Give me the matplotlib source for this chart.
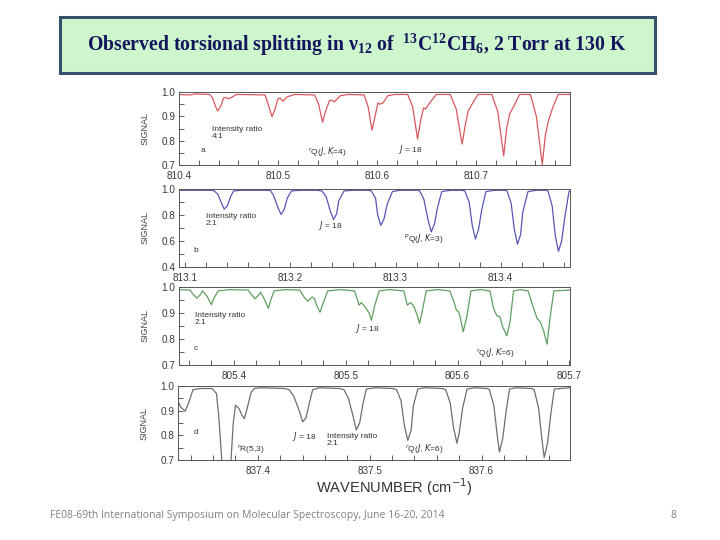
import matplotlib
matplotlib.use("Agg")
import matplotlib.pyplot as plt
from matplotlib.patches import Rectangle
from matplotlib.ticker import MultipleLocator, FormatStrFormatter

plt.rcParams['font.family'] = ['Liberation Sans', 'DejaVu Sans']
plt.rcParams['mathtext.fontset'] = 'custom'
plt.rcParams['mathtext.rm'] = 'Liberation Serif:bold'
plt.rcParams['mathtext.it'] = 'Liberation Serif:italic:bold'
plt.rcParams['mathtext.bf'] = 'Liberation Serif:bold'

# ---- panel a : rQ(J, K=4), red
wn_a = [810.400, 810.411, 810.417, 810.431, 810.434, 810.437, 810.439, 810.442, 810.445, 810.447, 810.450, 810.454, 810.458,
        810.487, 810.490, 810.494, 810.497, 810.500, 810.502, 810.505, 810.509, 810.517,
        810.537, 810.541, 810.545, 810.548, 810.552, 810.554, 810.557, 810.563, 810.571,
        810.587, 810.591, 810.595, 810.598, 810.601, 810.603, 810.606, 810.611, 810.618,
        810.631, 810.636, 810.641, 810.644, 810.647, 810.649, 810.654, 810.660,
        810.674, 810.680, 810.686, 810.689, 810.692, 810.696, 810.702,
        810.716, 810.722, 810.728, 810.731, 810.734, 810.738, 810.744,
        810.755, 810.761, 810.767, 810.770, 810.773, 810.777, 810.783, 810.795]
sig_a = [0.990, 0.988, 0.992, 0.990, 0.975, 0.940, 0.922, 0.940, 0.975, 0.978, 0.972, 0.980, 0.990,
         0.988, 0.950, 0.898, 0.930, 0.972, 0.975, 0.962, 0.980, 0.990,
         0.988, 0.950, 0.876, 0.920, 0.965, 0.966, 0.960, 0.985, 0.990,
         0.988, 0.940, 0.843, 0.900, 0.955, 0.950, 0.955, 0.985, 0.990,
         0.990, 0.940, 0.807, 0.880, 0.935, 0.930, 0.960, 0.990,
         0.990, 0.930, 0.786, 0.860, 0.920, 0.950, 0.990,
         0.990, 0.920, 0.737, 0.850, 0.910, 0.940, 0.990,
         0.990, 0.900, 0.702, 0.820, 0.880, 0.930, 0.990, 0.990]

# ---- panel b : pQ(J, K=3), blue
wn_b = [813.094, 813.124,
        813.127, 813.131, 813.134, 813.137, 813.140, 813.143, 813.146,
        813.152, 813.176,
        813.181, 813.184, 813.188, 813.191, 813.194, 813.197, 813.201,
        813.209, 813.226,
        813.230, 813.234, 813.238, 813.241, 813.244, 813.246, 813.251,
        813.259, 813.274,
        813.277, 813.281, 813.283, 813.286, 813.289, 813.292, 813.297,
        813.304, 813.321,
        813.323, 813.327, 813.331, 813.334, 813.337, 813.340, 813.344,
        813.352, 813.363,
        813.366, 813.370, 813.373, 813.376, 813.379, 813.382, 813.386,
        813.394, 813.404,
        813.406, 813.410, 813.413, 813.416, 813.419, 813.421, 813.426,
        813.434, 813.443,
        813.445, 813.449, 813.452, 813.455, 813.458, 813.461, 813.465,
        813.466]
sig_b = [0.990, 0.990,
         0.988, 0.960, 0.900, 0.845, 0.870, 0.940, 0.985,
         0.990, 0.990,
         0.988, 0.950, 0.860, 0.805, 0.840, 0.930, 0.985,
         0.990, 0.990,
         0.985, 0.940, 0.830, 0.765, 0.810, 0.910, 0.985,
         0.990, 0.990,
         0.985, 0.930, 0.800, 0.720, 0.770, 0.880, 0.980,
         0.990, 0.990,
         0.985, 0.920, 0.760, 0.670, 0.730, 0.860, 0.980,
         0.990, 0.990,
         0.985, 0.900, 0.720, 0.615, 0.690, 0.840, 0.980,
         0.990, 0.990,
         0.985, 0.890, 0.690, 0.575, 0.650, 0.820, 0.980,
         0.990, 0.990,
         0.985, 0.870, 0.640, 0.520, 0.600, 0.780, 0.980,
         0.985]

# ---- panel c : rQ(J, K=6), green
wn_c = [805.351, 805.361, 805.363, 805.367, 805.370, 805.372, 805.376, 805.380, 805.382, 805.386, 805.397,
        805.413, 805.415, 805.419, 805.422, 805.424, 805.427, 805.431, 805.433, 805.436, 805.446,
        805.459, 805.463, 805.466, 805.470, 805.472, 805.474, 805.477, 805.480, 805.484, 805.495,
        805.508, 805.512, 805.514, 805.517, 805.521, 805.523, 805.526, 805.530, 805.539,
        805.552, 805.555, 805.558, 805.561, 805.564, 805.566, 805.569, 805.572, 805.582,
        805.593, 805.597, 805.599, 805.601, 805.603, 805.605, 805.608, 805.612, 805.620,
        805.629, 805.632, 805.635, 805.638, 805.640, 805.644, 805.647, 805.650, 805.656,
        805.663, 805.667, 805.671, 805.674, 805.677, 805.680, 805.682, 805.686, 805.700]
sig_c = [0.990, 0.988, 0.975, 0.957, 0.970, 0.985, 0.965, 0.932, 0.955, 0.985, 0.990,
         0.988, 0.975, 0.955, 0.968, 0.980, 0.955, 0.918, 0.950, 0.985, 0.990,
         0.988, 0.960, 0.945, 0.962, 0.955, 0.930, 0.903, 0.940, 0.985, 0.990,
         0.985, 0.930, 0.940, 0.925, 0.900, 0.872, 0.930, 0.985, 0.990,
         0.985, 0.930, 0.940, 0.925, 0.890, 0.860, 0.920, 0.985, 0.990,
         0.985, 0.940, 0.910, 0.905, 0.870, 0.828, 0.880, 0.985, 0.990,
         0.985, 0.920, 0.890, 0.885, 0.850, 0.812, 0.870, 0.985, 0.990,
         0.985, 0.930, 0.880, 0.865, 0.830, 0.780, 0.860, 0.985, 0.988]

# ---- panel d : rQ(J, K=6), gray
wn_d = [837.329, 837.331, 837.335, 837.338, 837.342, 837.348, 837.359,
        837.363, 837.365, 837.367, 837.369, 837.375, 837.376, 837.378, 837.380,
        837.383, 837.386, 837.388, 837.391, 837.394, 837.397, 837.402, 837.424,
        837.428, 837.432, 837.437, 837.440, 837.443, 837.446, 837.449, 837.455, 837.473,
        837.477, 837.481, 837.485, 837.488, 837.491, 837.494, 837.497, 837.505, 837.521,
        837.524, 837.528, 837.531, 837.534, 837.537, 837.539, 837.543, 837.549, 837.565,
        837.568, 837.572, 837.575, 837.578, 837.580, 837.583, 837.587, 837.594, 837.605,
        837.607, 837.611, 837.614, 837.616, 837.619, 837.622, 837.625, 837.631, 837.645,
        837.647, 837.651, 837.654, 837.656, 837.659, 837.662, 837.665, 837.679]
sig_d = [0.935, 0.915, 0.898, 0.930, 0.985, 0.990, 0.990,
         0.970, 0.880, 0.750, 0.620, 0.620, 0.700, 0.850, 0.922,
         0.910, 0.880, 0.868, 0.920, 0.975, 0.990, 0.993, 0.990,
         0.985, 0.960, 0.900, 0.855, 0.870, 0.930, 0.985, 0.993, 0.990,
         0.985, 0.950, 0.880, 0.822, 0.850, 0.930, 0.988, 0.993, 0.990,
         0.985, 0.940, 0.840, 0.780, 0.820, 0.920, 0.988, 0.993, 0.990,
         0.985, 0.930, 0.830, 0.768, 0.810, 0.910, 0.988, 0.993, 0.990,
         0.985, 0.920, 0.800, 0.732, 0.790, 0.900, 0.988, 0.993, 0.990,
         0.985, 0.910, 0.780, 0.710, 0.770, 0.890, 0.988, 0.993]

panels = [
    dict(rect=[0.2486, 0.6944, 0.5431, 0.1352], x=wn_a, y=sig_a, color='#d9585e',
         xlim=(810.400, 810.795), ylim=(0.7, 1.0), ymaj=0.1, xmaj=0.1, xmin=0.02,
         notes=[("Intensity ratio\n4:1", 0.085, 0.54), ("a", 0.055, 0.25),
                ("$^{r}$Q($J$, $K$=4)", 0.33, 0.27), ("$J$ = 18", 0.56, 0.30)]),
    dict(rect=[0.2486, 0.5056, 0.5431, 0.1444], x=wn_b, y=sig_b, color='#5757b5',
         xlim=(813.094, 813.466), ylim=(0.4, 1.0), ymaj=0.2, xmaj=0.1, xmin=0.02,
         notes=[("Intensity ratio\n2:1", 0.068, 0.69), ("b", 0.037, 0.25),
                ("$J$ = 18", 0.355, 0.61), ("$^{p}$Q($J$, $K$=3)", 0.575, 0.45)]),
    dict(rect=[0.2486, 0.3241, 0.5431, 0.1444], x=wn_c, y=sig_c, color='#5f9f5f',
         xlim=(805.351, 805.7005), ylim=(0.7, 1.0), ymaj=0.1, xmaj=0.1, xmin=0.02,
         notes=[("Intensity ratio\n2.1", 0.04, 0.68), ("c", 0.037, 0.25),
                ("$J$ = 18", 0.45, 0.55), ("$^{r}$Q($J$, $K$=6)", 0.76, 0.24)]),
    dict(rect=[0.2472, 0.1481, 0.5444, 0.1370], x=wn_d, y=sig_d, color='#6e6e6e',
         xlim=(837.3286, 837.679), ylim=(0.7, 1.0), ymaj=0.1, xmaj=0.1, xmin=0.02,
         notes=[("d", 0.04, 0.42), ("$^{r}$R(5,3)", 0.15, 0.24),
                ("$J$ = 18", 0.29, 0.40), ("Intensity ratio\n2:1", 0.38, 0.37),
                ("$^{r}$Q($J$, $K$=6)", 0.58, 0.24)]),
]

fig = plt.figure(figsize=(7.2, 5.4), dpi=100)

# title box
fig.patches.append(Rectangle((0.0833, 0.8648), 0.8264, 0.1037, transform=fig.transFigure,
                             facecolor='#cdf6cd', edgecolor='#35506b', linewidth=2.2))
fig.text(0.496, 0.9167,
         "Observed torsional splitting in ν$_{12}$ of  $^{13}$C$^{12}$CH$_{6}$, 2 Torr at 130 K",
         ha='center', va='center', fontsize=14.2, fontweight='bold',
         family='Liberation Serif', color='#14145c', math_fontfamily='custom')

for p in panels:
    ax = fig.add_axes(p['rect'])
    ax.plot(p['x'], p['y'], color=p['color'], lw=0.9)
    ax.set_xlim(*p['xlim'])
    ax.set_ylim(*p['ylim'])
    ax.xaxis.set_major_locator(MultipleLocator(p['xmaj']))
    ax.xaxis.set_minor_locator(MultipleLocator(p['xmin']))
    ax.yaxis.set_major_locator(MultipleLocator(p['ymaj']))
    ax.yaxis.set_minor_locator(MultipleLocator(p['ymaj'] / 2))
    ax.xaxis.set_major_formatter(FormatStrFormatter('%.1f'))
    ax.yaxis.set_major_formatter(FormatStrFormatter('%.1f'))
    ax.tick_params(which='both', direction='in', length=3.5, width=0.6, color='#444444',
                   labelsize=7.2, labelcolor='#3a3a3a')
    ax.tick_params(axis='x', pad=4)
    ax.tick_params(axis='y', pad=2.5)
    for s in ax.spines.values():
        s.set_linewidth(0.7)
        s.set_color('#555555')
    ax.text(-0.087, 0.5, "SIGNAL", transform=ax.transAxes, rotation=90, ha='center',
            va='center', fontsize=6.5, color='#444444')
    for txt, tx, ty in p['notes']:
        ax.text(tx, ty, txt, transform=ax.transAxes, ha='left', va='top', fontsize=6,
                color='#333333', linespacing=1.0, math_fontfamily='dejavusans')

fig.text(0.547, 0.098, "WAVENUMBER (cm$^{-1}$)", ha='center', va='center', fontsize=10.5,
         color='#333333', math_fontfamily='dejavusans')

fig.text(0.069, 0.046, "FE08-69th International Symposium on Molecular Spectroscopy, June 16-20, 2014",
         ha='left', va='center', fontsize=7.5, color='#808080', family='Open Sans')
fig.text(0.935, 0.046, "8", ha='center', va='center', fontsize=7.5, color='#808080',
         family='Open Sans')

fig.savefig("out.png", dpi=100)
